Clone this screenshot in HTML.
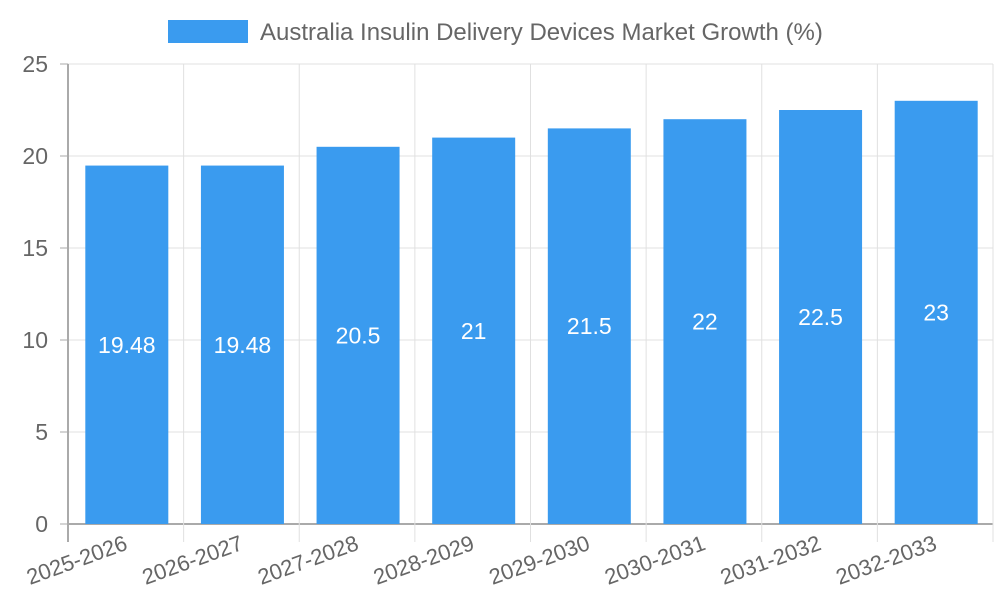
<!DOCTYPE html>
<html><head><meta charset="utf-8"><style>body{margin:0;background:#fff}svg{display:block;font-family:"Liberation Sans",sans-serif}</style></head>
<body>
<svg id="chart" width="1000" height="600" viewBox="0 0 1000 600">
<g>
<rect x="168" y="20" width="80" height="23" fill="#3a9bef"/>
<text x="260" y="40" font-size="24" fill="#666">Australia Insulin Delivery Devices Market Growth (%)</text>
</g>
<g id="grid"></g><g id="bars"></g><g id="axes"></g>
</svg>
<script>
const categories=["2025-2026","2026-2027","2027-2028","2028-2029","2029-2030","2030-2031","2031-2032","2032-2033"];
const values=[19.48,19.48,20.5,21,21.5,22,22.5,23];
const yTicks=[0,5,10,15,20,25];
const NS="http://www.w3.org/2000/svg";
const L=68,R=993,T=64,B=524,yMax=25;
const y=v=>B-(v/yMax)*(B-T);
const bw=(R-L)/categories.length;
const x=i=>L+i*bw;
function mk(t,a,p){const e=document.createElementNS(NS,t);for(const k in a)e.setAttribute(k,a[k]);p.appendChild(e);return e;}
const grid=document.getElementById('grid'),bars=document.getElementById('bars'),axes=document.getElementById('axes');
yTicks.forEach(t=>{
 const g=mk('line',{x1:L,x2:R,y1:y(t),y2:y(t),stroke:t===0?'#aaa':'#e0e0e0','stroke-width':t===0?2:1},grid);
 
 
 const tk=mk('line',{x1:L-8,x2:L,y1:y(t),y2:y(t),stroke:'#aaa'},axes);
 
 
 const tx=mk('text',{x:L-20,y:y(t)+8,'text-anchor':'end','font-size':23,fill:'#666'},axes);
 tx.textContent=t;
 
 
});
for(let i=0;i<=categories.length;i++){
 const g=mk('line',{x1:x(i),x2:x(i),y1:T,y2:B+18,stroke:i===0?'#aaa':'#e0e0e0','stroke-width':i===0?2:1},grid);
 
 
}
categories.forEach((c,i)=>{
 const cx=x(i)+bw/2+1,w=83;
 const r=mk('rect',{x:cx-w/2,y:y(values[i]),width:w,height:B-y(values[i]),fill:'#3a9bef'},bars);
 
 
 const v=mk('text',{x:cx,y:(y(values[i])+B)/2+8,'text-anchor':'middle','font-size':23,fill:'#fff'},bars);
 v.textContent=values[i];
 
 
 const lx=cx+2,ly=549;
 const l=mk('text',{x:lx,y:ly,'text-anchor':'end','font-size':22,fill:'#666',transform:`rotate(-20 ${lx} ${ly})`},axes);
 l.textContent=c;
 
 
});
</script>
</body></html>
